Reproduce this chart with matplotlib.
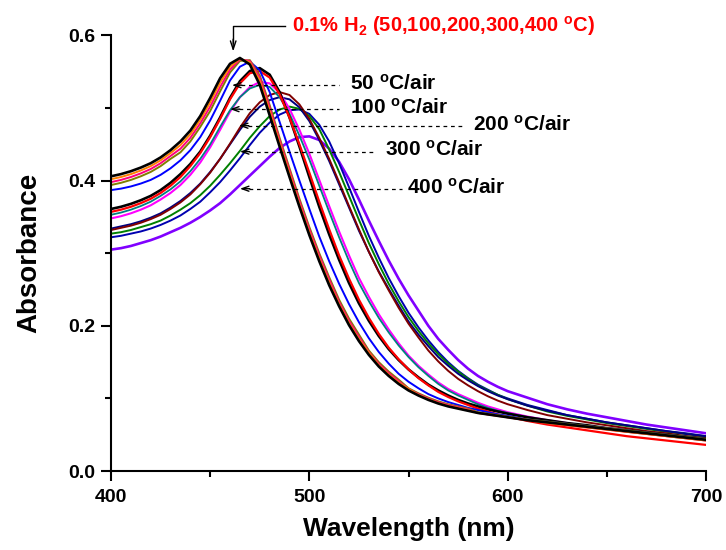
import matplotlib
matplotlib.use('Agg')
import matplotlib.pyplot as plt

plt.rcParams['font.family'] = ['Liberation Sans', 'DejaVu Sans']
plt.rcParams['font.weight'] = 'bold'
plt.rcParams['mathtext.fontset'] = 'custom'
plt.rcParams['mathtext.rm'] = 'Liberation Sans:bold'
plt.rcParams['mathtext.bf'] = 'Liberation Sans:bold'
plt.rcParams['mathtext.it'] = 'Liberation Sans:bold'

wavelength = [400, 405, 410, 415, 420, 425, 430, 435, 440, 445,
              450, 455, 460, 465, 470, 475, 480, 485, 490, 495,
              500, 505, 510, 515, 520, 525, 530, 535, 540, 545,
              550, 555, 560, 565, 570, 575, 580, 585, 590, 595,
              600,
              610, 620, 630, 640, 650, 660, 670, 680, 690, 700]

# 0.1% H2 treated samples
h2_black = [0.406, 0.409, 0.413, 0.418, 0.424, 0.432, 0.442, 0.454, 0.469, 0.489,
            0.514, 0.541, 0.561, 0.569, 0.560, 0.532, 0.490, 0.447, 0.405, 0.364,
            0.325, 0.289, 0.256, 0.227, 0.201, 0.179, 0.160, 0.144, 0.131, 0.120,
            0.111, 0.104, 0.098, 0.093, 0.089, 0.086, 0.083, 0.080, 0.078, 0.076,
            0.074,
            0.070, 0.067, 0.064, 0.061, 0.058, 0.055, 0.052, 0.049, 0.046, 0.043]
h2_orange = [0.402, 0.405, 0.409, 0.414, 0.420, 0.428, 0.438, 0.449, 0.464, 0.484,
             0.508, 0.535, 0.557, 0.568, 0.563, 0.538, 0.496, 0.452, 0.410, 0.368,
             0.329, 0.293, 0.260, 0.230, 0.204, 0.182, 0.163, 0.146, 0.133, 0.122,
             0.113, 0.105, 0.099, 0.094, 0.090, 0.087, 0.084, 0.080, 0.078, 0.076,
             0.074,
             0.070, 0.066, 0.063, 0.060, 0.057, 0.054, 0.051, 0.048, 0.045, 0.042]
h2_pink = [0.398, 0.401, 0.405, 0.410, 0.416, 0.424, 0.434, 0.444, 0.459, 0.479,
           0.502, 0.529, 0.553, 0.567, 0.565, 0.542, 0.501, 0.456, 0.414, 0.372,
           0.333, 0.297, 0.264, 0.233, 0.207, 0.185, 0.164, 0.148, 0.135, 0.124,
           0.113, 0.106, 0.100, 0.095, 0.091, 0.088, 0.085, 0.080, 0.078, 0.076,
           0.074,
           0.070, 0.066, 0.063, 0.060, 0.057, 0.054, 0.051, 0.048, 0.045, 0.042]
h2_olive = [0.394, 0.397, 0.401, 0.406, 0.412, 0.420, 0.430, 0.439, 0.454, 0.474,
            0.496, 0.523, 0.549, 0.565, 0.566, 0.545, 0.504, 0.459, 0.417, 0.375,
            0.336, 0.300, 0.267, 0.236, 0.210, 0.188, 0.166, 0.150, 0.137, 0.126,
            0.114, 0.107, 0.101, 0.096, 0.092, 0.089, 0.086, 0.081, 0.079, 0.077,
            0.075,
            0.071, 0.068, 0.065, 0.062, 0.059, 0.056, 0.053, 0.050, 0.047, 0.044]
h2_blue = [0.387, 0.389, 0.392, 0.396, 0.401, 0.408, 0.417, 0.428, 0.442, 0.460,
           0.483, 0.510, 0.538, 0.557, 0.564, 0.552, 0.522, 0.481, 0.440, 0.400,
           0.361, 0.323, 0.289, 0.258, 0.230, 0.205, 0.183, 0.164, 0.148, 0.134,
           0.123, 0.114, 0.106, 0.100, 0.095, 0.091, 0.087, 0.084, 0.081, 0.078,
           0.076,
           0.071, 0.068, 0.065, 0.062, 0.059, 0.056, 0.053, 0.050, 0.047, 0.044]

# air treated samples
air50_black = [0.361, 0.364, 0.368, 0.373, 0.379, 0.387, 0.397, 0.409, 0.423, 0.440,
               0.462, 0.487, 0.514, 0.537, 0.551, 0.555, 0.546, 0.522, 0.487, 0.447,
               0.405, 0.364, 0.326, 0.291, 0.259, 0.231, 0.207, 0.186, 0.168, 0.153,
               0.140, 0.129, 0.119, 0.111, 0.104, 0.098, 0.093, 0.089, 0.085, 0.082,
               0.079,
               0.074, 0.070, 0.066, 0.063, 0.059, 0.056, 0.053, 0.050, 0.047, 0.044]
air50_red = [0.357, 0.360, 0.364, 0.369, 0.375, 0.383, 0.393, 0.405, 0.420, 0.438,
             0.460, 0.485, 0.512, 0.534, 0.548, 0.551, 0.542, 0.519, 0.487, 0.450,
             0.411, 0.371, 0.333, 0.297, 0.265, 0.236, 0.211, 0.189, 0.170, 0.154,
             0.140, 0.128, 0.118, 0.109, 0.102, 0.096, 0.091, 0.086, 0.082, 0.078,
             0.075,
             0.069, 0.064, 0.060, 0.056, 0.052, 0.048, 0.045, 0.042, 0.039, 0.036]
air100_magenta = [0.348, 0.351, 0.355, 0.360, 0.366, 0.374, 0.383, 0.394, 0.408, 0.425,
                  0.446, 0.470, 0.495, 0.515, 0.529, 0.536, 0.534, 0.521, 0.499, 0.470,
                  0.437, 0.401, 0.365, 0.330, 0.297, 0.266, 0.240, 0.216, 0.195, 0.176,
                  0.159, 0.145, 0.133, 0.122, 0.113, 0.106, 0.100, 0.094, 0.089, 0.085,
                  0.081,
                  0.075, 0.070, 0.066, 0.062, 0.059, 0.055, 0.052, 0.049, 0.046, 0.043]
air100_teal = [0.353, 0.356, 0.360, 0.365, 0.371, 0.379, 0.388, 0.399, 0.413, 0.430,
               0.450, 0.474, 0.497, 0.515, 0.527, 0.532, 0.529, 0.515, 0.492, 0.462,
               0.429, 0.393, 0.357, 0.322, 0.289, 0.259, 0.234, 0.211, 0.191, 0.173,
               0.157, 0.143, 0.131, 0.120, 0.111, 0.104, 0.098, 0.092, 0.087, 0.083,
               0.080,
               0.074, 0.069, 0.065, 0.061, 0.058, 0.054, 0.051, 0.048, 0.045, 0.042]
air200_wine = [0.332, 0.335, 0.338, 0.342, 0.347, 0.353, 0.361, 0.370, 0.381, 0.395,
               0.411, 0.430, 0.451, 0.473, 0.493, 0.508, 0.518, 0.522, 0.518, 0.505,
               0.485, 0.459, 0.430, 0.398, 0.365, 0.333, 0.302, 0.274, 0.249, 0.225,
               0.203, 0.184, 0.166, 0.151, 0.138, 0.127, 0.118, 0.110, 0.103, 0.097,
               0.092,
               0.084, 0.077, 0.072, 0.067, 0.063, 0.059, 0.055, 0.052, 0.048, 0.045]
air200_navy = [0.334, 0.337, 0.340, 0.344, 0.349, 0.355, 0.363, 0.372, 0.383, 0.396,
               0.412, 0.430, 0.450, 0.470, 0.488, 0.502, 0.511, 0.515, 0.512, 0.501,
               0.482, 0.456, 0.427, 0.395, 0.363, 0.331, 0.302, 0.275, 0.251, 0.228,
               0.206, 0.188, 0.172, 0.157, 0.145, 0.134, 0.125, 0.117, 0.110, 0.104,
               0.099,
               0.090, 0.083, 0.077, 0.072, 0.067, 0.063, 0.059, 0.055, 0.051, 0.048]
air300_green = [0.327, 0.329, 0.332, 0.336, 0.340, 0.345, 0.352, 0.360, 0.369, 0.380,
                0.393, 0.408, 0.424, 0.441, 0.459, 0.475, 0.489, 0.498, 0.502, 0.499,
                0.489, 0.471, 0.443, 0.412, 0.379, 0.346, 0.314, 0.285, 0.258, 0.234,
                0.212, 0.193, 0.176, 0.161, 0.148, 0.137, 0.127, 0.118, 0.111, 0.105,
                0.099,
                0.090, 0.082, 0.076, 0.071, 0.066, 0.062, 0.058, 0.054, 0.051, 0.047]
air300_blue = [0.322, 0.324, 0.327, 0.330, 0.334, 0.339, 0.345, 0.352, 0.361, 0.371,
               0.384, 0.398, 0.414, 0.431, 0.449, 0.466, 0.480, 0.491, 0.497, 0.498,
               0.492, 0.477, 0.454, 0.424, 0.391, 0.357, 0.324, 0.294, 0.266, 0.241,
               0.218, 0.198, 0.180, 0.164, 0.150, 0.138, 0.128, 0.119, 0.112, 0.105,
               0.100,
               0.091, 0.084, 0.077, 0.072, 0.067, 0.063, 0.059, 0.055, 0.052, 0.048]
air400_violet = [0.305, 0.307, 0.310, 0.314, 0.318, 0.323, 0.329, 0.335, 0.342, 0.350,
                 0.359, 0.369, 0.381, 0.394, 0.407, 0.420, 0.433, 0.445, 0.454, 0.460,
                 0.461, 0.456, 0.444, 0.426, 0.402, 0.374, 0.345, 0.317, 0.290, 0.265,
                 0.242, 0.221, 0.200, 0.182, 0.167, 0.153, 0.141, 0.131, 0.123, 0.116,
                 0.110,
                 0.101, 0.092, 0.085, 0.079, 0.074, 0.069, 0.064, 0.060, 0.056, 0.052]

series = [
    (air400_violet, '#8000FF', 1.9),
    (air300_blue, '#0000B0', 1.4),
    (air300_green, '#008000', 1.4),
    (air200_navy, '#000080', 1.4),
    (air200_wine, '#800000', 1.4),
    (air100_magenta, '#FF00FF', 1.5),
    (air100_teal, '#008080', 1.3),
    (air50_black, '#000000', 1.9),
    (air50_red, '#FF0000', 1.6),
    (h2_blue, '#0000FF', 1.4),
    (h2_olive, '#808000', 1.4),
    (h2_pink, '#FF0080', 1.4),
    (h2_orange, '#FF8000', 1.4),
    (h2_black, '#000000', 1.9),
]
for s, c, lw in series:
    if len(s) != len(wavelength):
        raise ValueError(f'length mismatch {len(s)} for {c}')

fig = plt.figure(figsize=(7.26, 5.5), dpi=100)
ax = fig.add_axes([0.1529, 0.1436, 0.8196, 0.7919])

for s, c, lw in series:
    ax.plot(wavelength, s, color=c, lw=lw, solid_joinstyle='round', solid_capstyle='round')

ax.set_xlim(400, 700)
ax.set_ylim(0, 0.6)
ax.set_xticks([400, 500, 600, 700])
ax.set_xticks([450, 550, 650], minor=True)
ax.set_yticks([0.0, 0.2, 0.4, 0.6])
ax.set_yticks([0.1, 0.3, 0.5], minor=True)
ax.set_yticklabels(['0.0', '0.2', '0.4', '0.6'])
ax.tick_params(which='major', direction='out', length=7, width=1.5, labelsize=14, pad=4)
ax.tick_params(which='minor', direction='out', length=4, width=1.5)
ax.tick_params(axis='x', which='major', pad=6)
for sp in ['top', 'right']:
    ax.spines[sp].set_visible(False)
for sp in ['left', 'bottom']:
    ax.spines[sp].set_linewidth(1.5)
for lab in ax.get_xticklabels() + ax.get_yticklabels():
    lab.set_fontweight('bold')

ax.set_xlabel('Wavelength (nm)', fontsize=19, fontweight='bold', labelpad=8)
ax.set_ylabel('Absorbance', fontsize=20, fontweight='bold', labelpad=19)

# red H2 label with bent arrow
ax.plot([487.7, 461.6, 461.6], [0.6124, 0.6124, 0.590], color='black', lw=1.0, clip_on=False)
ax.annotate('', xy=(461.6, 0.578), xytext=(461.6, 0.595), annotation_clip=False,
            arrowprops=dict(arrowstyle='->,head_length=0.6,head_width=0.2', color='black', lw=1.0,
                            shrinkA=0, shrinkB=0))
ax.text(491.5, 0.6124, r'0.1% H$_{\mathrm{2}}$ (50,100,200,300,400 $^{\mathrm{o}}$C)', color='#FF0000',
        fontsize=14.5, fontweight='bold', va='center', ha='left', clip_on=False)

# air labels: (tip x, y, dash end x, text x, label)
labels = [
    (461.0, 0.5315, 515.0, 520.5, r'50 $^{\mathrm{o}}$C/air'),
    (460.0, 0.4985, 515.0, 520.5, r'100 $^{\mathrm{o}}$C/air'),
    (464.5, 0.4757, 576.8, 582.7, r'200 $^{\mathrm{o}}$C/air'),
    (465.0, 0.4400, 533.1, 538.1, r'300 $^{\mathrm{o}}$C/air'),
    (465.0, 0.3889, 546.5, 549.1, r'400 $^{\mathrm{o}}$C/air'),
]
for tip, yv, dend, tx, lab in labels:
    ax.plot([tip + 4.5, dend], [yv, yv], color='black', lw=0.9, ls=(0, (3, 3)))
    ax.annotate('', xy=(tip, yv), xytext=(tip + 5, yv),
                arrowprops=dict(arrowstyle='->,head_length=0.5,head_width=0.18', color='black', lw=1.0,
                                shrinkA=0, shrinkB=0))
    ax.text(tx, yv + 0.002, lab, fontsize=15, fontweight='bold', va='center', ha='left')

fig.savefig('out.png', dpi=100)
